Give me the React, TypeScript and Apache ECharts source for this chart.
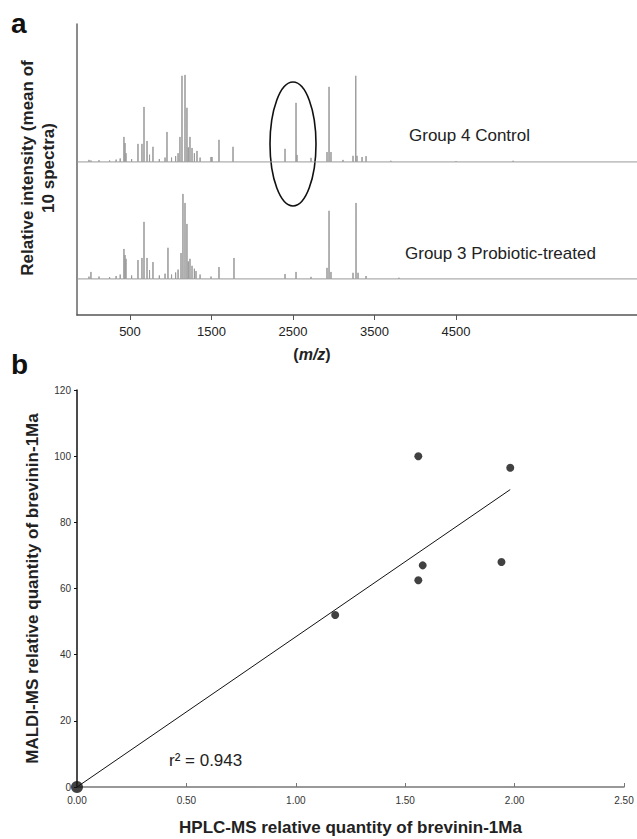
import React, { useEffect, useRef } from 'react';
import * as echarts from 'echarts';

const FONT = '"Liberation Sans", Arial, sans-serif';

// ---- Panel a: MALDI spectra ----
const MZ_TICKS = [500, 1500, 2500, 3500, 4500];
const MZ_MIN = -150;
const MZ_MAX = 6720;
const CONTROL_OFFSET = 52.6;
const PROBIOTIC_OFFSET = 12.4;

// [m/z, relative peak height]
const controlPeaks: [number, number][] = [
  [-3, 0.7], [21, 0.5], [120, 0.6], [250, 0.5], [330, 0.8], [380, 1.2],
  [426, 8.6], [439, 6.5], [451, 3], [520, 1], [598, 6.2], [647, 6.2],
  [672, 18.9], [709, 7.2], [740, 2.5], [782, 5.2], [860, 1], [930, 1.5],
  [954, 10.3], [1010, 1.5], [1060, 2], [1090, 3], [1113, 8.6], [1138, 29.6],
  [1175, 29.9], [1199, 18.6], [1215, 5], [1236, 8.6], [1261, 4.8], [1290, 3],
  [1322, 3.8], [1360, 1.5], [1494, 1.7], [1506, 1.7], [1592, 7.6], [1764, 5.2],
  [2402, 4.5], [2537, 20.3], [2549, 2.4], [2721, 1.4], [2917, 3.4], [2942, 25.8],
  [2966, 3.4], [3113, 0.7], [3236, 2.1], [3270, 29.6], [3285, 2.1], [3347, 1.7],
  [3396, 2], [3700, 0.4], [4500, 0.3], [5200, 0.4],
];

const probioticPeaks: [number, number][] = [
  [-3, 0.8], [21, 2.4], [120, 0.8], [250, 0.6], [330, 1.0], [380, 1.5],
  [426, 10.3], [439, 8.2], [451, 6.9], [520, 1.2], [598, 6.5], [647, 7.2],
  [672, 19.6], [709, 7.2], [740, 3], [782, 5.8], [860, 1.2], [930, 1.8],
  [966, 10.7], [1010, 1.5], [1060, 2.2], [1090, 3.2], [1126, 8.9], [1150, 29.2],
  [1175, 26.1], [1199, 18.9], [1215, 6], [1236, 6.9], [1261, 4.5], [1290, 3.5],
  [1310, 2.7], [1360, 1.5], [1494, 0.8], [1592, 4.1], [1776, 7.2],
  [2402, 1.7], [2537, 2.4], [2721, 0.7], [2917, 3.8], [2942, 23.4],
  [2966, 2.4], [3236, 2.1], [3273, 26.1], [3298, 2.1], [3396, 1.0], [3800, 0.4],
];

// ---- Panel b: correlation ----
const hplcX = [1.18, 1.56, 1.56, 1.58, 1.94, 1.98];
const maldiY = [52, 62.5, 100, 67, 68, 96.5];
const originX = [0];
const originY = [0];
const trendX = [0, 1.98];
const trendY = [0, 89.9];
const R2_TEXT = 'r² = 0.943';

function buildSpectrum(peaks: [number, number][], offset: number) {
  const sorted = [...peaks].sort((a, b) => a[0] - b[0]);
  const pts: number[][] = [[MZ_MIN, offset]];
  for (const [mz, h] of sorted) {
    pts.push([mz - 1.5, offset], [mz, offset + h], [mz + 1.5, offset]);
  }
  pts.push([MZ_MAX, offset]);
  return pts;
}

export default function App() {
  const ref = useRef<HTMLDivElement>(null);

  useEffect(() => {
    if (!ref.current) return;
    const chart = echarts.init(ref.current, undefined, { renderer: 'svg' });

    const option: any = {
      animation: false,
      backgroundColor: '#ffffff',
      textStyle: { fontFamily: FONT },
      grid: [
        { left: 77, top: 24, width: 560, height: 291 },
        { left: 77, top: 390, width: 547, height: 397 },
      ],
      xAxis: [
        {
          gridIndex: 0,
          type: 'value',
          min: MZ_MIN,
          max: MZ_MAX,
          splitLine: { show: false },
          axisLine: { show: true, onZero: false, lineStyle: { color: '#555', width: 1.5 } },
          axisTick: { show: true, customValues: MZ_TICKS, length: 5, lineStyle: { color: '#555' } },
          axisLabel: {
            customValues: MZ_TICKS,
            color: '#222',
            fontSize: 13,
            fontFamily: FONT,
            margin: 10,
            formatter: (v: number) => String(v),
          },
        },
        {
          gridIndex: 1,
          type: 'value',
          min: 0,
          max: 2.5,
          interval: 0.5,
          splitLine: { show: false },
          axisLine: { show: true, onZero: false, lineStyle: { color: '#777', width: 1.5 } },
          axisTick: { show: true, inside: true, length: 4, lineStyle: { color: '#777' } },
          axisLabel: {
            color: '#333',
            fontSize: 10,
            fontFamily: FONT,
            margin: 8,
            formatter: (v: number) => v.toFixed(2),
          },
          name: 'HPLC-MS relative quantity of brevinin-1Ma',
          nameLocation: 'middle',
          nameGap: 32,
          nameTextStyle: { fontSize: 17, fontWeight: 'bold', color: '#222', fontFamily: FONT },
        },
      ],
      yAxis: [
        {
          gridIndex: 0,
          type: 'value',
          min: 0,
          max: 100,
          splitLine: { show: false },
          axisLine: { show: true, onZero: false, lineStyle: { color: '#666', width: 1.5 } },
          axisTick: { show: false },
          axisLabel: { show: false },
        },
        {
          gridIndex: 1,
          type: 'value',
          min: 0,
          max: 120,
          interval: 20,
          splitLine: { show: false },
          axisLine: { show: true, onZero: false, lineStyle: { color: '#111', width: 1.5 } },
          axisTick: { show: true, length: 3, lineStyle: { color: '#111' } },
          axisLabel: { color: '#333', fontSize: 10, fontFamily: FONT, margin: 6 },
          name: 'MALDI-MS relative quantity of brevinin-1Ma',
          nameLocation: 'middle',
          nameRotate: 90,
          nameGap: 36,
          nameTextStyle: { fontSize: 17, fontWeight: 'bold', color: '#222', fontFamily: FONT },
        },
      ],
      series: [
        {
          name: 'Group 4 Control',
          type: 'line',
          xAxisIndex: 0,
          yAxisIndex: 0,
          showSymbol: false,
          data: buildSpectrum(controlPeaks, CONTROL_OFFSET),
          lineStyle: { color: '#999999', width: 1 },
        },
        {
          name: 'Group 3 Probiotic-treated',
          type: 'line',
          xAxisIndex: 0,
          yAxisIndex: 0,
          showSymbol: false,
          data: buildSpectrum(probioticPeaks, PROBIOTIC_OFFSET),
          lineStyle: { color: '#999999', width: 1 },
        },
        {
          name: 'trend',
          type: 'line',
          xAxisIndex: 1,
          yAxisIndex: 1,
          showSymbol: false,
          data: trendX.map((x, i) => [x, trendY[i]]),
          lineStyle: { color: '#111', width: 1 },
        },
        {
          name: 'samples',
          type: 'scatter',
          xAxisIndex: 1,
          yAxisIndex: 1,
          symbolSize: 8,
          itemStyle: { color: '#111' },
          data: hplcX.map((x, i) => [x, maldiY[i]]),
        },
        {
          name: 'origin',
          type: 'scatter',
          xAxisIndex: 1,
          yAxisIndex: 1,
          symbolSize: 12,
          itemStyle: { color: '#111' },
          data: originX.map((x, i) => [x, originY[i]]),
        },
      ],
      graphic: [
        {
          type: 'text',
          left: 11,
          top: 9,
          style: { text: 'a', fontSize: 28, fontWeight: 'bold', fill: '#111', fontFamily: FONT },
        },
        {
          type: 'text',
          left: 11,
          top: 350,
          style: { text: 'b', fontSize: 28, fontWeight: 'bold', fill: '#111', fontFamily: FONT },
        },
        {
          type: 'text',
          x: 38,
          y: 168,
          rotation: Math.PI / 2,
          style: {
            text: 'Relative intensity (mean of\n10 spectra)',
            fontSize: 17,
            fontWeight: 'bold',
            fill: '#222',
            fontFamily: FONT,
            align: 'center',
            verticalAlign: 'middle',
            lineHeight: 21,
          },
        },
        {
          type: 'ellipse',
          shape: { cx: 293, cy: 144, rx: 23, ry: 62 },
          style: { fill: 'none', stroke: '#111', lineWidth: 1.6 },
        },
        {
          type: 'text',
          x: 409,
          y: 135,
          style: {
            text: 'Group 4 Control',
            fontSize: 17,
            fill: '#222',
            fontFamily: FONT,
            verticalAlign: 'middle',
          },
        },
        {
          type: 'text',
          x: 405,
          y: 253,
          style: {
            text: 'Group 3 Probiotic-treated',
            fontSize: 17,
            fill: '#222',
            fontFamily: FONT,
            verticalAlign: 'middle',
          },
        },
        {
          type: 'text',
          x: 312,
          y: 354,
          style: {
            text: '{n|(}{i|m/z}{n|)}',
            align: 'center',
            verticalAlign: 'middle',
            rich: {
              n: { fontSize: 16, fontWeight: 'bold', fill: '#222', fontFamily: FONT },
              i: { fontSize: 16, fontWeight: 'bold', fontStyle: 'italic', fill: '#222', fontFamily: FONT },
            },
          },
        },
        {
          type: 'text',
          x: 169,
          y: 760,
          style: {
            text: R2_TEXT,
            fontSize: 17,
            fill: '#222',
            fontFamily: FONT,
            verticalAlign: 'middle',
          },
        },
      ],
    };

    chart.setOption(option);
    return () => chart.dispose();
  }, []);

  return (
    <div
      ref={ref}
      style={{ position: 'absolute', left: 0, top: 0, width: 637, height: 839 }}
    />
  );
}
